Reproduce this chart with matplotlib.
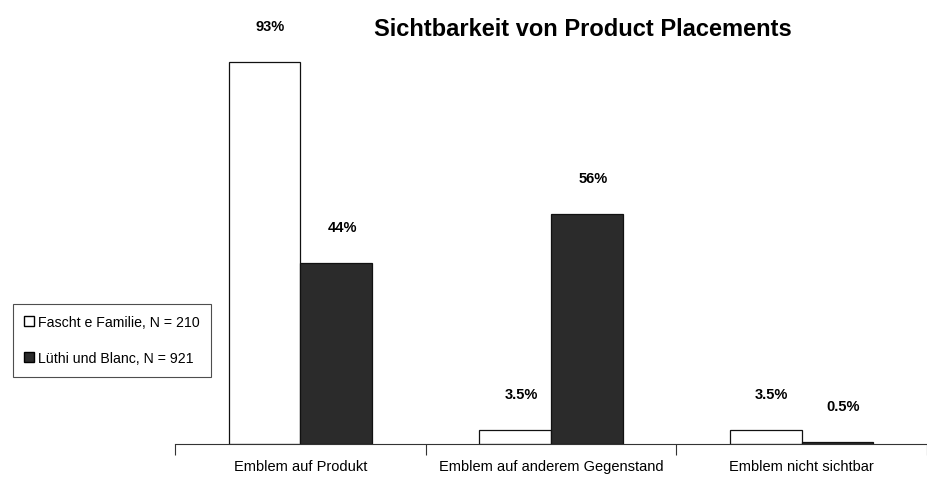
import numpy as np
import matplotlib
matplotlib.use('Agg')
import matplotlib.pyplot as plt
from matplotlib.lines import Line2D

# data
categories = ['Emblem auf Produkt', 'Emblem auf anderem Gegenstand', 'Emblem nicht sichtbar']
fascht = [93, 3.5, 3.5]
luethi = [44, 56, 0.5]
fascht_labels = ['93%', '3.5%', '3.5%']
luethi_labels = ['44%', '56%', '0.5%']
series_names = ['Fascht e Familie, N = 210', 'Lüthi und Blanc, N = 921']

plt.rcParams['font.family'] = ['Liberation Sans', 'DejaVu Sans']

fig = plt.figure(figsize=(9.28, 4.81), dpi=100)
ax = fig.add_axes([175/928, 1-445/481, 752/928, 445/481])

x = np.arange(len(categories))
w = 0.286
dark = '#2b2b2b'
b1 = ax.bar(x - w/2, fascht, w, color='white', edgecolor='#111111', linewidth=0.9)
b2 = ax.bar(x + w/2, luethi, w, color=dark, edgecolor='#111111', linewidth=0.9)

# value labels well above the bars
for bars, labs in ((b1, fascht_labels), (b2, luethi_labels)):
    for rect, lab in zip(bars, labs):
        ax.annotate(lab, (rect.get_x() + rect.get_width()/2, rect.get_height()),
                    xytext=(6, 36), textcoords='offset pixels', ha='center', va='center',
                    fontsize=10.5, fontweight='bold')

ax.set_xlim(-0.5, 2.5)
ax.set_ylim(0, 108.3)
for s in ['top', 'right', 'left']:
    ax.spines[s].set_visible(False)
ax.spines['bottom'].set_color('#333333')
ax.set_yticks([])
ax.set_xticks([-0.5, 0.5, 1.5, 2.5])
ax.set_xticklabels([])
ax.tick_params(axis='x', which='major', length=8, direction='out', color='#333333')
ax.set_xticks(x, minor=True)
ax.set_xticklabels(categories, minor=True, fontsize=10.5)
ax.tick_params(axis='x', which='minor', length=0, pad=11)

fig.text(583/928, 1-30/481, 'Sichtbarkeit von Product Placements', ha='center', va='center',
         fontsize=17, fontweight='bold')

handles = [Line2D([], [], marker='s', linestyle='', markerfacecolor='white',
                  markeredgecolor='black', markersize=7.5),
           Line2D([], [], marker='s', linestyle='', markerfacecolor=dark,
                  markeredgecolor='black', markersize=7.5)]
leg = fig.legend(handles, series_names, loc='upper left', bbox_to_anchor=(13/928, 1-305/481),
                 fontsize=10.2, frameon=True, fancybox=False, handlelength=0.6,
                 handletextpad=0.35, borderpad=0.8, labelspacing=1.55, borderaxespad=0)
leg.get_frame().set_edgecolor('#222222')
leg.get_frame().set_linewidth(0.8)

fig.savefig('out.png', dpi=100)
